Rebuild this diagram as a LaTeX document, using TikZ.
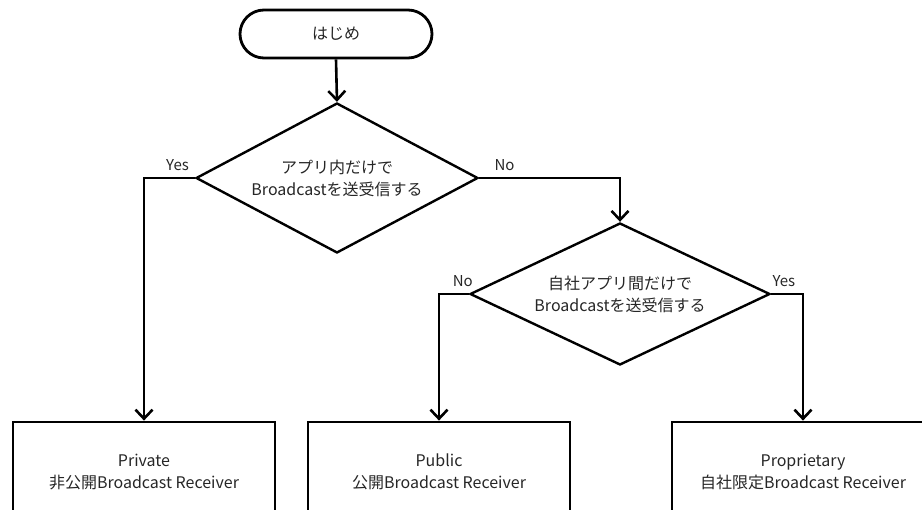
\documentclass[tikz,border=0pt]{standalone}
\usepackage{fontspec}
\setmainfont{Noto Sans CJK JP}
\usetikzlibrary{shapes.geometric,arrows.meta}
\tikzset{
  term/.style={draw, line width=2.8pt, rounded corners=24pt, minimum width=192pt, minimum height=48pt},
  ask/.style={draw, diamond, line width=2.4pt, inner sep=0pt, align=center},
  kind/.style={draw, line width=2.8pt, minimum width=262pt, minimum height=100pt, align=center},
  flow/.style={line width=2.6pt, -{Straight Barb[length=9pt,width=17pt]}},
  tag/.style={font=\fontsize{15pt}{17pt}\selectfont, text=black!85, above=3pt},
}
\begin{document}
\begin{tikzpicture}[x=1pt, y=-1pt, font=\fontsize{16pt}{22pt}\selectfont, text=black!85]
\path[use as bounding box, clip] (0,0) rectangle (922,510);
\node[term] (start) at (336,34) {はじめ};
\node[ask, aspect=1.9, minimum width=282pt, minimum height=150pt] (q1) at (337,178) {アプリ内だけで\\Broadcastを送受信する};
\node[ask, aspect=2.1, minimum width=300pt, minimum height=142pt] (q2) at (620,294) {自社アプリ間だけで\\Broadcastを送受信する};
\node[kind] (priv) at (144,472) {Private\\非公開Broadcast Receiver};
\node[kind] (pub) at (439,472) {Public\\公開Broadcast Receiver};
\node[kind] (prop) at (803,472) {Proprietary\\自社限定Broadcast Receiver};
\draw[flow] (start.south) -- (q1.north);
\draw[flow] (q1.west) -| node[tag, pos=0.17] {Yes} (priv.north);
\draw[flow] (q1.east) -| node[tag, pos=0.09] {No} (q2.north);
\draw[flow] (q2.west) -| node[tag, pos=0.1] {No} (pub.north);
\draw[flow] (q2.east) -| node[tag, pos=0.2] {Yes} (prop.north);
\end{tikzpicture}
\end{document}
